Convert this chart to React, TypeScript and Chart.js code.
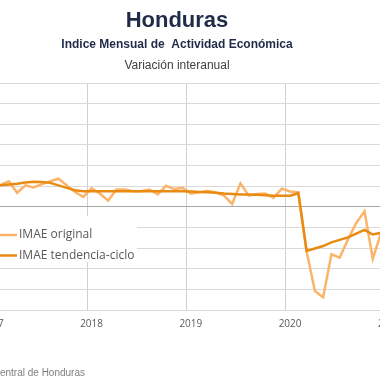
import React, { useEffect, useRef } from "react";
import { Chart, registerables } from "chart.js";

Chart.register(...registerables);

// ---- data ----
const years = ["2017", "2018", "2019", "2020", "2021"];
const monthCodes = ["01", "02", "03", "04", "05", "06", "07", "08", "09", "10", "11", "12"];

const original2017 = [4.6, 5.3, 6.2, 3.4, 5.2, 4.7, 5.5, 6.2, 6.8, 5.2, 3.6, 2.4];
const original2018 = [4.5, 3.2, 1.5, 4.2, 4.2, 3.8, 3.8, 4.2, 3.0, 5.1, 4.3, 4.6];
const original2019 = [3.2, 3.5, 3.9, 3.5, 2.7, 0.7, 5.7, 2.7, 3.1, 3.2, 2.2, 4.4];
const original2020 = [3.7, 3.5, -10.8, -20.4, -21.9, -11.5, -12.3, -7.9, -3.9, -1.1, -12.6, -6.3];
const original2021 = [-2.5, -0.8, 5.5, 26.0, 22.5, 14.0];

const trend2017 = [5.0, 5.2, 5.4, 5.6, 5.9, 6.05, 6.0, 5.8, 5.2, 4.6, 4.0, 3.8];
const trend2018 = [3.8, 3.8, 3.8, 3.8, 3.8, 3.8, 3.8, 3.8, 3.8, 3.8, 3.8, 3.8];
const trend2019 = [3.7, 3.6, 3.5, 3.4, 3.2, 3.1, 3.0, 3.0, 2.9, 2.8, 2.7, 2.7];
const trend2020 = [2.7, 3.3, -10.7, -10.1, -9.5, -8.6, -8.0, -7.4, -6.5, -5.6, -6.7, -6.3];
const trend2021 = [-5.0, -3.6, -1.2, 2.0, 5.0, 7.5];

const imaeOriginal = [...original2017, ...original2018, ...original2019, ...original2020, ...original2021];
const imaeTendencia = [...trend2017, ...trend2018, ...trend2019, ...trend2020, ...trend2021];

const monthLabels: string[] = [];
years.forEach((y) => monthCodes.forEach((m) => monthLabels.push(`${y}-${m}`)));
const labels = monthLabels.slice(0, imaeOriginal.length);

const seriesNames = ["IMAE original", "IMAE tendencia-ciclo"];
const titleText = "Honduras";
const subtitleText = "Indice Mensual de  Actividad Económica";
const subtitle2Text = "Variación interanual";
const sourceText = "Fuente: Banco Central de Honduras";

const yMin = -25;
const yMax = 30;
const yStep = 5;

// ---- styling ----
const LIGHT = "#FBB469";
const DARK = "#E98A12";
const CANVAS_W = 540;
const CANVAS_H = 380;
const SHIFT = 93;

const decorations = {
  id: "decorations",
  afterDatasetsDraw(chart: any) {
    const ctx = chart.ctx as CanvasRenderingContext2D;
    const area = chart.chartArea;
    ctx.save();
    // legend box
    ctx.fillStyle = "#ffffff";
    ctx.fillRect(area.left + 1, 216, SHIFT + 137 - (area.left + 1), 46);
    const rows = [
      { name: seriesNames[0], color: LIGHT, y: 235 },
      { name: seriesNames[1], color: DARK, y: 255.5 },
    ];
    ctx.font = "12px 'Open Sans', sans-serif";
    ctx.textAlign = "left";
    ctx.textBaseline = "middle";
    rows.forEach((r) => {
      ctx.strokeStyle = r.color;
      ctx.lineWidth = 2.5;
      ctx.beginPath();
      ctx.moveTo(SHIFT - 14, r.y);
      ctx.lineTo(SHIFT + 17, r.y);
      ctx.stroke();
      ctx.fillStyle = "#595959";
      ctx.fillText(r.name, SHIFT + 19, r.y);
    });
    ctx.restore();
  },
  afterDraw(chart: any) {
    const ctx = chart.ctx as CanvasRenderingContext2D;
    const cx = chart.width / 2;
    ctx.save();
    ctx.textAlign = "center";
    ctx.textBaseline = "alphabetic";
    ctx.fillStyle = "#1F2B47";
    ctx.font = "bold 22px 'Liberation Sans', Arial, sans-serif";
    ctx.fillText(titleText, cx, 26.5);
    ctx.font = "bold 12px 'Liberation Sans', Arial, sans-serif";
    ctx.fillText(subtitleText, cx, 48);
    ctx.fillStyle = "#404040";
    ctx.font = "12px 'Liberation Sans', Arial, sans-serif";
    ctx.fillText(subtitle2Text, cx, 68.5);
    ctx.textAlign = "right";
    ctx.fillStyle = "#7F7F7F";
    ctx.font = "10px 'Liberation Sans', Arial, sans-serif";
    ctx.fillText(sourceText, SHIFT + 85, 375.5);
    ctx.restore();
  },
};

export default function App() {
  const ref = useRef<HTMLCanvasElement>(null);
  useEffect(() => {
    const chart = new Chart(ref.current as HTMLCanvasElement, {
      type: "line",
      data: {
        labels,
        datasets: [
          {
            label: seriesNames[0],
            data: imaeOriginal,
            borderColor: LIGHT,
            borderWidth: 2.5,
            pointRadius: 0,
            tension: 0,
            order: 1,
          },
          {
            label: seriesNames[1],
            data: imaeTendencia,
            borderColor: DARK,
            borderWidth: 2.5,
            pointRadius: 0,
            tension: 0,
            order: 0,
          },
        ],
      },
      options: {
        responsive: false,
        animation: false,
        devicePixelRatio: 1,
        layout: { padding: { left: 81.2, right: 12.2, top: 83, bottom: 0 } },
        plugins: {
          legend: { display: false },
          title: { display: false },
          tooltip: { enabled: false },
        },
        scales: {
          x: {
            type: "category",
            offset: true,
            border: { display: false },
            grid: {
              offset: true,
              drawTicks: false,
              lineWidth: 1,
              color: (c: any) => {
                const lab = labels[c.index];
                return lab && lab.endsWith("-01") ? "#CFCFCF" : "rgba(0,0,0,0)";
              },
            },
            ticks: {
              autoSkip: false,
              maxRotation: 0,
              minRotation: 0,
              padding: 8,
              color: "#595959",
              font: { family: "'Open Sans', sans-serif", size: 10 },
              callback: (_v: any, i: number) => {
                const lab = labels[i];
                return lab && lab.endsWith("-01") ? lab.slice(0, 4) : "";
              },
            },
            afterFit: (s: any) => {
              s.height = 70;
              s.paddingLeft = 0;
              s.paddingRight = 0;
            },
          },
          y: {
            min: yMin,
            max: yMax,
            border: { display: false },
            grid: {
              drawTicks: false,
              lineWidth: 1,
              color: (c: any) => (c.tick && c.tick.value === 0 ? "#A6A6A6" : "#D9D9D9"),
            },
            ticks: { stepSize: yStep, display: false },
            afterFit: (s: any) => {
              s.width = 0;
            },
          },
        },
      },
      plugins: [decorations],
    } as any);
    return () => chart.destroy();
  }, []);

  return (
    <div
      style={{
        position: "fixed",
        left: 0,
        top: 0,
        width: 380,
        height: 380,
        overflow: "hidden",
        background: "#ffffff",
      }}
    >
      <canvas
        ref={ref}
        width={CANVAS_W}
        height={CANVAS_H}
        style={{ position: "absolute", left: -SHIFT, top: 0, width: CANVAS_W, height: CANVAS_H }}
      />
    </div>
  );
}
